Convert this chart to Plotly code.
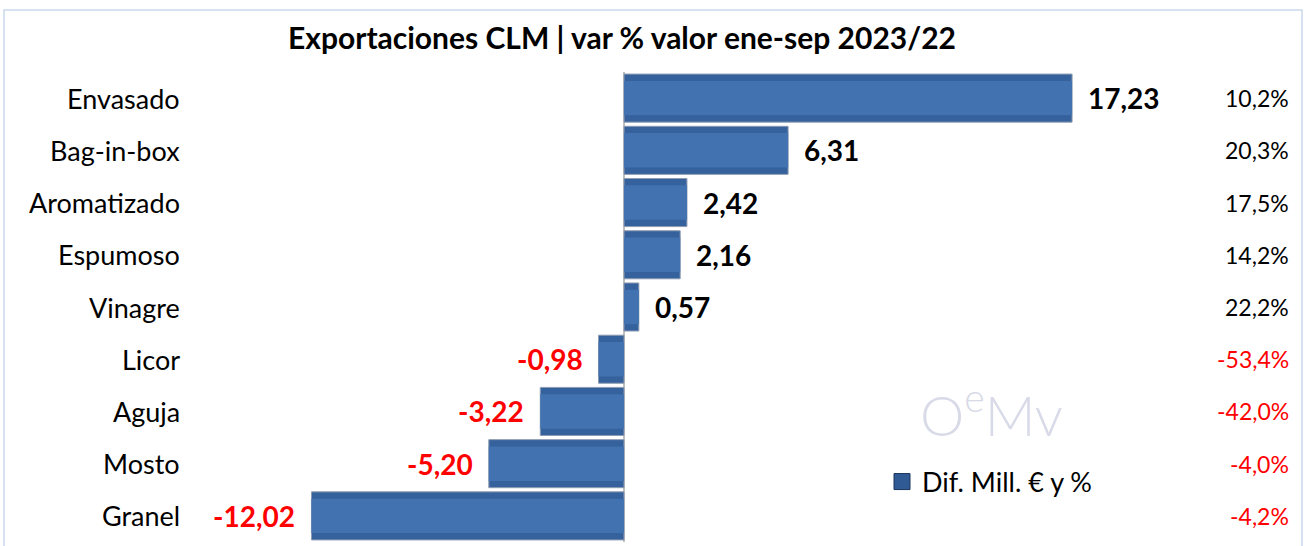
import plotly.graph_objects as go

categories = ["Envasado", "Bag-in-box", "Aromatizado", "Espumoso", "Vinagre",
              "Licor", "Aguja", "Mosto", "Granel"]
values = [17.23, 6.31, 2.42, 2.16, 0.57, -0.98, -3.22, -5.20, -12.02]
pct_labels = ["10,2%", "20,3%", "17,5%", "14,2%", "22,2%",
              "-53,4%", "-42,0%", "-4,0%", "-4,2%"]
title_text = "Exportaciones CLM | var % valor ene-sep 2023/22"
legend_name = "Dif. Mill. € y %"
watermark = "O<sup>e</sup>Mv"

FONT = "Lato"
W, H = 1311, 546
L, R, T, B = 190, 1200, 72, 542
PW, PH = R - L, B - T


def px_x(x):
    return (x - L) / PW


def px_y(y):
    return (B - y) / PH


fig = go.Figure()
fig.add_trace(go.Bar(
    y=categories, x=values, orientation="h", name=legend_name, width=0.92,
    marker=dict(color="#35619c", line=dict(color="#8e9cb2", width=1)),
    showlegend=False, hoverinfo="skip",
))
fig.add_trace(go.Bar(
    y=categories, x=values, orientation="h", name="hl", width=0.66,
    marker=dict(color="#4272b0", line=dict(width=0)),
    showlegend=False, hoverinfo="skip",
))
# legend entry (square swatch)
fig.add_trace(go.Scatter(
    x=[None], y=[None], mode="markers", name=legend_name,
    marker=dict(symbol="square", size=16, color="#2f5a94",
                line=dict(color="#1c355c", width=1)),
    showlegend=True, hoverinfo="skip",
))

for c, v, p in zip(categories, values, pct_labels):
    neg = v < 0
    col = "#ff0000" if neg else "#000000"
    txt = f"{v:.2f}".replace(".", ",")
    fig.add_annotation(
        x=v, y=c, xref="x", yref="y", text=f"<b>{txt}</b>",
        xanchor="right" if neg else "left", xshift=-14 if neg else 14,
        showarrow=False, font=dict(family=FONT, size=28, color=col))
    fig.add_annotation(
        x=px_x(1291), y=c, xref="paper", yref="y", text=p, xanchor="right",
        showarrow=False, font=dict(family=FONT, size=23, color=col))
    fig.add_annotation(
        x=px_x(182), y=c, xref="paper", yref="y", text=c, xanchor="right",
        showarrow=False, font=dict(family=FONT, size=27, color="#000000"))

# watermark
fig.add_annotation(x=px_x(918), y=px_y(410), xref="paper", yref="paper",
                   text=watermark, showarrow=False,
                   font=dict(family=FONT, size=56, color="#d8dae8", weight=300),
                   xanchor="left", yanchor="middle")

fig.update_layout(
    width=W, height=H,
    margin=dict(l=L, r=W - R, t=T, b=H - B),
    paper_bgcolor="white", plot_bgcolor="white",
    barmode="overlay",
    title=dict(text=f"<b>{title_text}</b>", x=622 / W, xanchor="center",
               y=1 - 38 / H, yanchor="middle",
               font=dict(family=FONT, size=30, color="#000000")),
    xaxis=dict(range=[-16.69, 22.15], showgrid=False, zeroline=True,
               zerolinecolor="#bfbfbf", zerolinewidth=1.5,
               showticklabels=False, ticks=""),
    yaxis=dict(categoryorder="array", categoryarray=categories[::-1],
               showticklabels=False, showgrid=False, ticks="",
               range=[-0.5, 8.5]),
    legend=dict(x=px_x(882), y=px_y(482), xanchor="left",
                yanchor="middle", font=dict(family=FONT, size=27, color="#000"),
                bgcolor="rgba(0,0,0,0)", itemwidth=30),
    font=dict(family=FONT),
)

# frame
fig.add_shape(type="rect", xref="paper", yref="paper",
              x0=px_x(4), x1=px_x(1302), y0=-0.05, y1=px_y(10),
              line=dict(color="#c9d9ee", width=1.5), fillcolor="rgba(0,0,0,0)")

fig.write_html("out.html", config={"displayModeBar": False},
               post_script="document.body.style.margin='0';")
